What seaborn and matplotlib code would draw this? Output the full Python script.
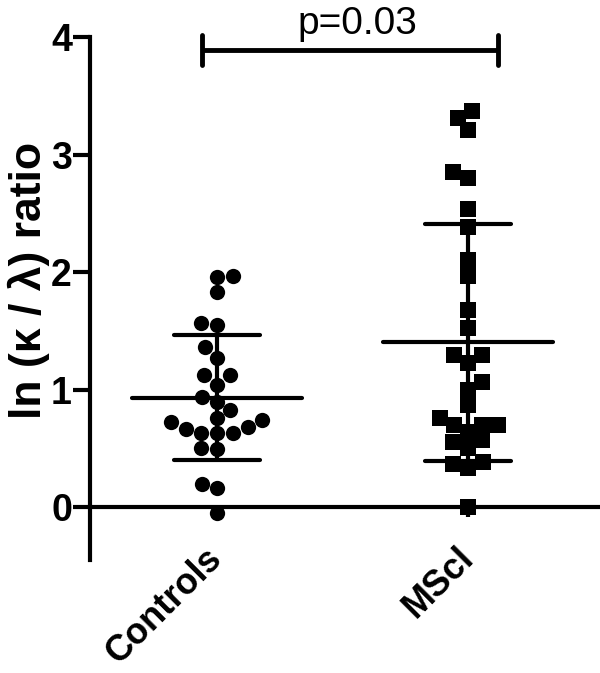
# pylint: skip-file
import numpy as np
import pandas as pd
import matplotlib
matplotlib.use("Agg")
import matplotlib.pyplot as plt
import seaborn as sns

# =======================
# Datos
# =======================
grupos = ["Controls", "MScl"]
controls = [1.96, 1.83, 1.97, 1.55, 1.57, 1.36, 1.27, 1.12, 1.04, 1.12, 0.89,
            0.94, 0.83, 0.74, 0.63, 0.72, 0.76, 0.63, 0.66, 0.68, 0.63,
            0.49, 0.50, 0.20, 0.16, -0.05]
mscl = [3.37, 3.21, 3.31, 2.85, 2.80, 2.54, 2.38, 2.10, 1.97, 1.68, 1.52,
        1.29, 1.29, 1.23, 1.06, 1.00, 0.87, 0.76, 0.70, 0.64, 0.70, 0.70,
        0.55, 0.57, 0.50, 0.37, 0.33, 0.38, 0.00]
marcadores = ["o", "s"]
p_texto = "p=0.03"

df = pd.DataFrame({
    "grupo": [grupos[0]] * len(controls) + [grupos[1]] * len(mscl),
    "valor": controls + mscl,
})

sns.set_style("white")
plt.rcParams["font.family"] = ["Liberation Sans", "DejaVu Sans"]
plt.rcParams["text.color"] = "black"
plt.rcParams["axes.labelcolor"] = "black"
plt.rcParams["xtick.color"] = "black"
plt.rcParams["ytick.color"] = "black"

fig = plt.figure(figsize=(6, 6.73), dpi=100)
ax = fig.add_axes([0.15, 0.168, 0.85, 0.777])

for g, m in zip(grupos, marcadores):
    sns.swarmplot(data=df[df["grupo"] == g], x="grupo", y="valor", order=grupos,
                  color="black", marker=m, size=11, linewidth=0, ax=ax, zorder=3)

# media y desvío estándar
resumen = df.groupby("grupo", sort=False)["valor"].agg(["mean", "std"]).reindex(grupos)
for i, (media, sd) in enumerate(zip(resumen["mean"], resumen["std"])):
    ax.hlines(media, i - 0.34, i + 0.34, color="black", lw=3, capstyle="round", zorder=4)
    ax.hlines([media - sd, media + sd], i - 0.17, i + 0.17, color="black", lw=3,
              capstyle="round", zorder=4)
    ax.vlines(i, media - sd, media + sd, color="black", lw=3, zorder=4)

# barra de significancia
ax.plot([-0.06, 1.12], [3.89, 3.89], color="black", lw=3.5, clip_on=False, solid_capstyle="butt")
ax.vlines([-0.06, 1.12], 3.76, 4.02, color="black", lw=3.5, clip_on=False, capstyle="round")
ax.text(0.56, 3.96, p_texto, ha="center", va="bottom", fontsize=28)

ax.set_xlim(-0.506, 1.526)
ax.set_ylim(-0.45, 4.0)
ax.set_yticks([0, 1, 2, 3, 4])
ax.set_xlabel("")
ax.set_ylabel("ln (κ / λ) ratio", fontsize=32, fontweight="bold")
ax.yaxis.set_label_coords(-0.078, 0.535)

for lado in ["top", "right"]:
    ax.spines[lado].set_visible(False)
ax.spines["left"].set_linewidth(3)
ax.spines["bottom"].set_linewidth(3)
ax.spines["bottom"].set_position(("data", 0))
ax.spines["left"].set_color("black")
ax.spines["bottom"].set_color("black")

ax.tick_params(axis="y", direction="out", length=12, width=3, labelsize=27, pad=1, left=True)
ax.tick_params(axis="x", direction="out", length=7, width=3, labelsize=26, pad=26, bottom=True)
for t in ax.get_yticklabels():
    t.set_fontweight("bold")
for t in ax.get_xticklabels():
    t.set_fontweight("bold")
    t.set_rotation(45)
    t.set_ha("right")
    t.set_va("center")
    t.set_rotation_mode("anchor")

fig.savefig("out.png", dpi=100)
